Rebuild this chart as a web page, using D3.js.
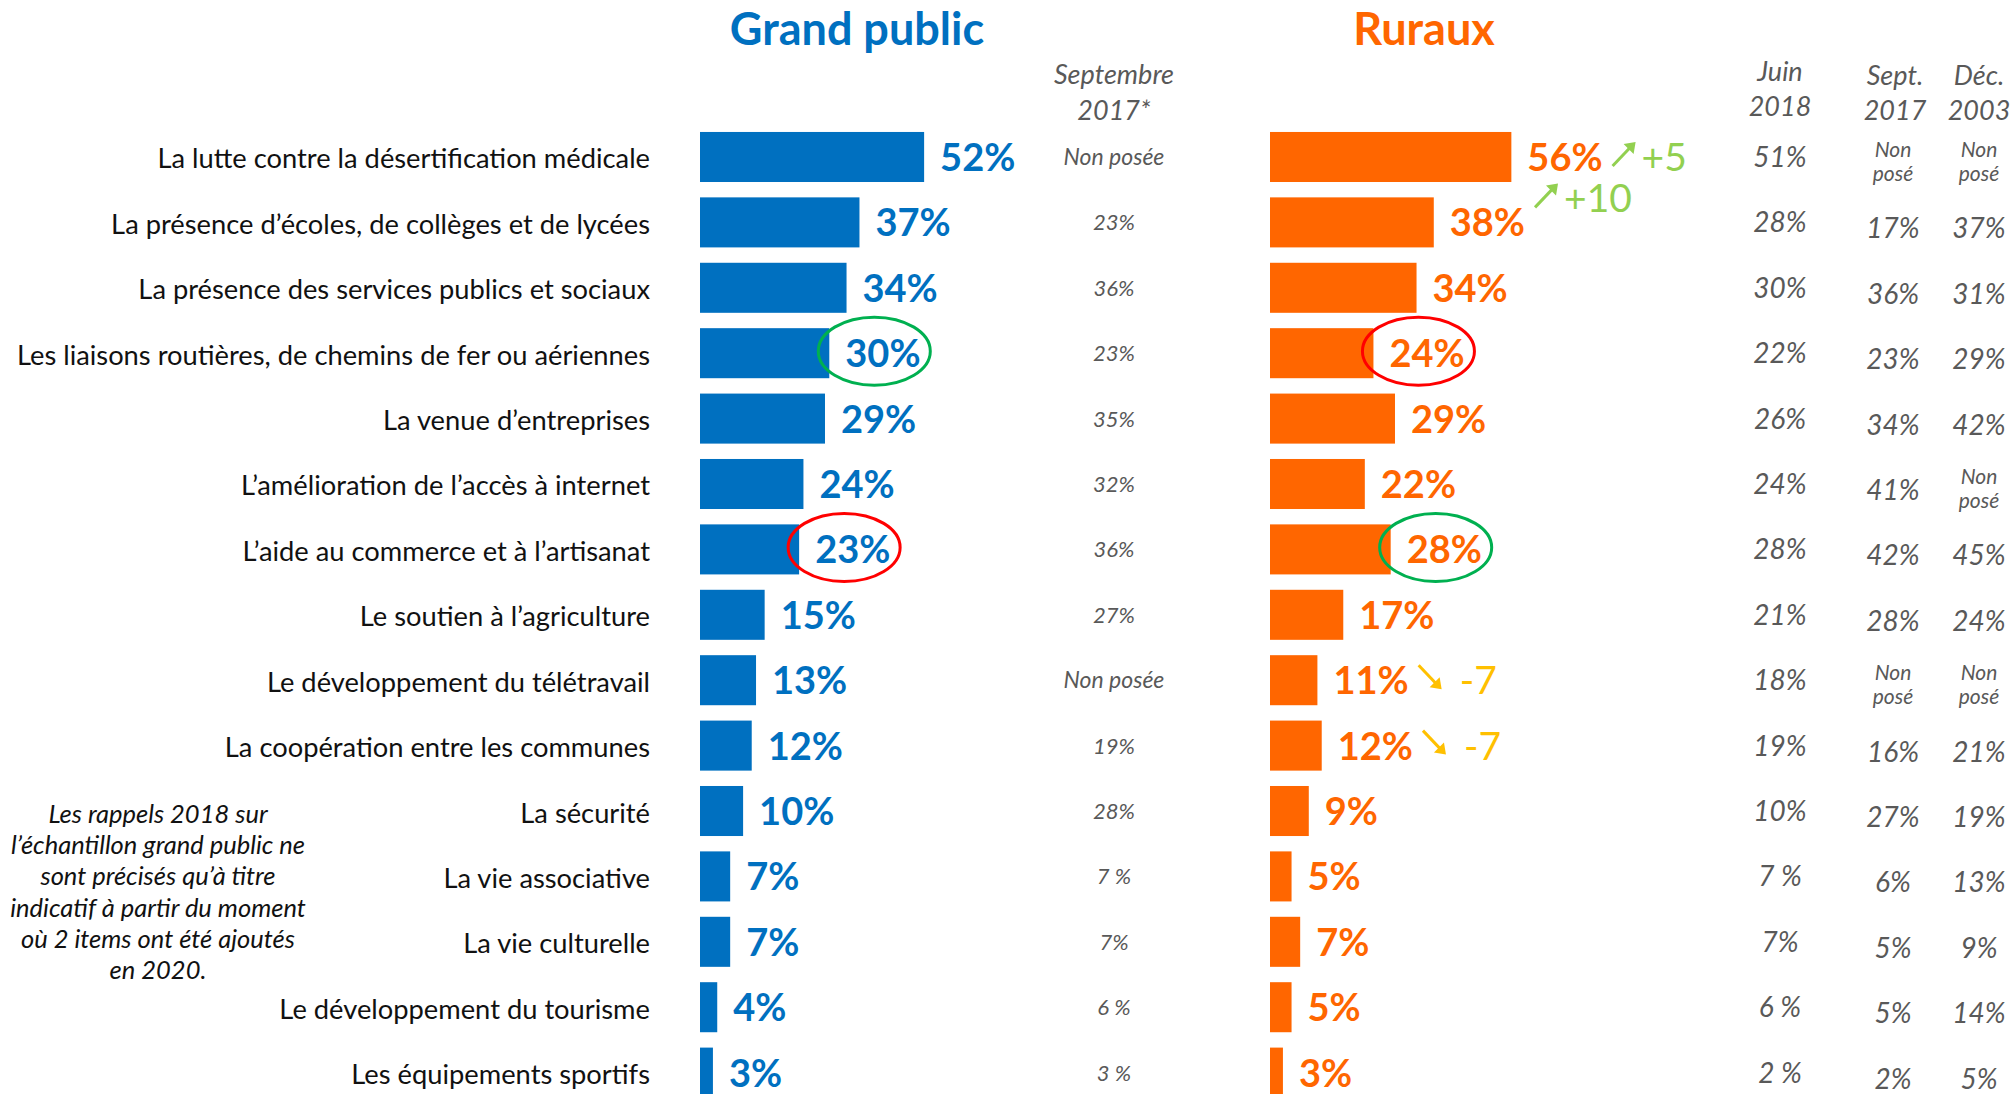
<!DOCTYPE html>
<html>
<head>
<meta charset="utf-8">
<script src="https://cdn.jsdelivr.net/npm/d3@7"></script>
<style>
  html, body { margin: 0; padding: 0; background: #fff; }
  svg { display: block; font-family: Lato, "Open Sans", sans-serif; }
</style>
</head>
<body>
<svg id="chart" width="2010" height="1094"></svg>
<script>
// ---- data ----
var categories = [
  "La lutte contre la désertification médicale",
  "La présence d\u2019écoles, de collèges et de lycées",
  "La présence des services publics et sociaux",
  "Les liaisons routières, de chemins de fer ou aériennes",
  "La venue d\u2019entreprises",
  "L\u2019amélioration de l\u2019accès à internet",
  "L\u2019aide au commerce et à l\u2019artisanat",
  "Le soutien à l\u2019agriculture",
  "Le développement du télétravail",
  "La coopération entre les communes",
  "La sécurité",
  "La vie associative",
  "La vie culturelle",
  "Le développement du tourisme",
  "Les équipements sportifs"
];
var grandPublic = [52, 37, 34, 30, 29, 24, 23, 15, 13, 12, 10, 7, 7, 4, 3];
var ruraux      = [56, 38, 34, 24, 29, 22, 28, 17, 11, 12, 9, 5, 7, 5, 3];

var gpSept2017 = ["Non posée", "23%", "36%", "23%", "35%", "32%", "36%", "27%", "Non posée", "19%", "28%", "7 %", "7%", "6 %", "3 %"];
var ruJuin2018 = ["51%", "28%", "30%", "22%", "26%", "24%", "28%", "21%", "18%", "19%", "10%", "7 %", "7%", "6 %", "2 %"];
var ruSept2017 = ["Non posé", "17%", "36%", "23%", "34%", "41%", "42%", "28%", "Non posé", "16%", "27%", "6%", "5%", "5%", "2%"];
var ruDec2003  = ["Non posé", "37%", "31%", "29%", "42%", "Non posé", "45%", "24%", "Non posé", "21%", "19%", "13%", "9%", "14%", "5%"];

// evolution vs Juin 2018 (ruraux)
var ruEvolution = [
  {row: 0, text: "+5", dir: "up"},
  {row: 1, text: "+10", dir: "up"},
  {row: 8, text: "-7", dir: "down"},
  {row: 9, text: "-7", dir: "down"}
];

// circled rank changes
var gpRankUp = [3], gpRankDown = [6];
var ruRankUp = [6], ruRankDown = [3];

var titles = ["Grand public", "Ruraux"];
var gpColHeader = ["Septembre", "2017*"];
var ruColHeaders = [["Juin", "2018"], ["Sept.", "2017"], ["Déc.", "2003"]];

var footnote = [
  "Les rappels 2018 sur",
  "l\u2019échantillon grand public ne",
  "sont précisés qu\u2019à titre",
  "indicatif à partir du moment",
  "où 2 items ont été ajoutés",
  "en 2020."
];

// ---- layout ----
var BLUE = "#0070C0", ORANGE = "#FF6600", GREY = "#595959";
var GREEN_UP = "#92D050", YELLOW_DOWN = "#FFC000";

var svg = d3.select("#chart");

var y = d3.scaleBand()
  .domain(d3.range(categories.length))
  .range([116.6, 1113])
  .padding(0.235);
var rowMid = function (i) { return y(i) + y.bandwidth() / 2; };

var xGp = d3.scaleLinear().domain([0, 100]).range([700, 1131]);
var xRu = d3.scaleLinear().domain([0, 100]).range([1270, 1701]);

// titles
svg.selectAll("text.title")
  .data(titles)
  .enter().append("text")
  .attr("class", "title")
  .attr("x", function (d, i) { return i === 0 ? 857 : 1424; })
  .attr("y", 45)
  .attr("text-anchor", "middle")
  .attr("font-size", 45)
  .attr("font-weight", "bold")
  .attr("fill", function (d, i) { return i === 0 ? BLUE : ORANGE; })
  .text(function (d) { return d; });

// category labels
svg.append("g").selectAll("text")
  .data(categories)
  .enter().append("text")
  .attr("x", 650)
  .attr("y", function (d, i) { return rowMid(i) + 11.5; })
  .attr("text-anchor", "end")
  .attr("font-size", 27.3)
  .attr("fill", "#111")
  .text(function (d) { return d; });

// bars + value labels for one series
function drawSeries(values, x, color, cls) {
  var g = svg.append("g").attr("class", cls);
  g.selectAll("rect")
    .data(values)
    .enter().append("rect")
    .attr("x", x(0))
    .attr("y", function (d, i) { return y(i); })
    .attr("width", function (d) { return x(d) - x(0); })
    .attr("height", y.bandwidth())
    .attr("fill", color);
  var labels = g.selectAll("text")
    .data(values)
    .enter().append("text")
    .attr("x", function (d) { return x(d) + 16; })
    .attr("y", function (d, i) { return rowMid(i) + 14; })
    .attr("font-size", 38)
    .attr("font-weight", "bold")
    .attr("fill", color)
    .text(function (d) { return d + "%"; });
  return labels;
}

var gpLabels = drawSeries(grandPublic, xGp, BLUE, "gp");
var ruLabels = drawSeries(ruraux, xRu, ORANGE, "ru");

// circled values
function drawRings(rows, values, x, stroke) {
  svg.append("g").selectAll("ellipse")
    .data(rows)
    .enter().append("ellipse")
    .attr("cx", function (r) { return x(values[r]) + 45; })
    .attr("cy", function (r) { return rowMid(r) - 2; })
    .attr("rx", 56)
    .attr("ry", 34)
    .attr("fill", "none")
    .attr("stroke", stroke)
    .attr("stroke-width", 3);
}
drawRings(gpRankUp, grandPublic, xGp, "#00B050");
drawRings(gpRankDown, grandPublic, xGp, "#FF0000");
drawRings(ruRankUp, ruraux, xRu, "#00B050");
drawRings(ruRankDown, ruraux, xRu, "#FF0000");

// evolution arrows after the ruraux labels
var ruLabelEnd = ruLabels.nodes().map(function (n, i) {
  return xRu(ruraux[i]) + 16 + n.getComputedTextLength();
});
var evo = svg.append("g").selectAll("g")
  .data(ruEvolution)
  .enter().append("g")
  .attr("transform", function (d) {
    // the +10 sits between two rows, as in the original slide
    var lift = (d.row === 1) ? -24 : 0;
    return "translate(" + (ruLabelEnd[d.row] + 9) + "," + (rowMid(d.row) + 14 + lift) + ")";
  });
evo.each(function (d) {
  var g = d3.select(this);
  var c = d.dir === "up" ? GREEN_UP : YELLOW_DOWN;
  var p = d.dir === "up"
    ? {x1: 1, y1: -5, x2: 24, y2: -29}
    : {x1: 1, y1: -29, x2: 24, y2: -5};
  g.append("line")
    .attr("x1", p.x1).attr("y1", p.y1)
    .attr("x2", p.x2 - 4).attr("y2", p.y2 + (d.dir === "up" ? 4 : -4))
    .attr("stroke", c).attr("stroke-width", 3);
  var head = d.dir === "up"
    ? [[p.x2, p.y2], [p.x2 - 12, p.y2 + 2], [p.x2 - 2, p.y2 + 12]]
    : [[p.x2, p.y2], [p.x2 - 12, p.y2 - 2], [p.x2 - 2, p.y2 - 12]];
  g.append("path").attr("d", d3.line()(head) + "Z").attr("fill", c);
  g.append("text")
    .attr("x", d.dir === "up" ? 30 : 42)
    .attr("y", 0)
    .attr("font-size", 39)
    .attr("fill", c)
    .text(d.text);
});

// comparison columns
function drawColumn(values, cx, size, dyValue, twoLineNa) {
  var g = svg.append("g").attr("fill", GREY).attr("font-style", "italic");
  values.forEach(function (v, i) {
    var mid = rowMid(i);
    if (v.indexOf("Non") === 0) {
      if (twoLineNa) {
        var parts = v.split(" ");
        g.append("text").attr("x", cx).attr("y", mid).attr("text-anchor", "middle")
          .attr("font-size", 21).text(parts[0]);
        g.append("text").attr("x", cx).attr("y", mid + 24).attr("text-anchor", "middle")
          .attr("font-size", 21).text(parts[1]);
      } else {
        g.append("text").attr("x", cx).attr("y", mid + 8).attr("text-anchor", "middle")
          .attr("font-size", 23).text(v);
      }
    } else {
      g.append("text").attr("x", cx).attr("y", mid + dyValue).attr("text-anchor", "middle")
        .attr("font-size", size).text(v);
    }
  });
}
drawColumn(gpSept2017, 1114, 22, 8, false);
drawColumn(ruJuin2018, 1780, 28, 10, true);
drawColumn(ruSept2017, 1893, 28, 16, true);
drawColumn(ruDec2003, 1979, 28, 16, true);

// column headers
var hdr = svg.append("g").attr("fill", GREY).attr("font-style", "italic")
  .attr("text-anchor", "middle").attr("font-size", 27);
gpColHeader.forEach(function (t, k) {
  hdr.append("text").attr("x", 1114).attr("y", k === 0 ? 84 : 120).text(t);
});
var hdrX = [1780, 1895, 1979];
ruColHeaders.forEach(function (lines, j) {
  var top = j === 0 ? 81 : 85;
  lines.forEach(function (t, k) {
    hdr.append("text").attr("x", hdrX[j]).attr("y", top + k * 35).text(t);
  });
});

// footnote
svg.append("g").selectAll("text")
  .data(footnote)
  .enter().append("text")
  .attr("x", 158)
  .attr("y", function (d, i) { return 823 + i * 31.2; })
  .attr("text-anchor", "middle")
  .attr("font-size", 25.5)
  .attr("font-style", "italic")
  .attr("fill", "#111")
  .text(function (d) { return d; });
</script>
</body>
</html>
